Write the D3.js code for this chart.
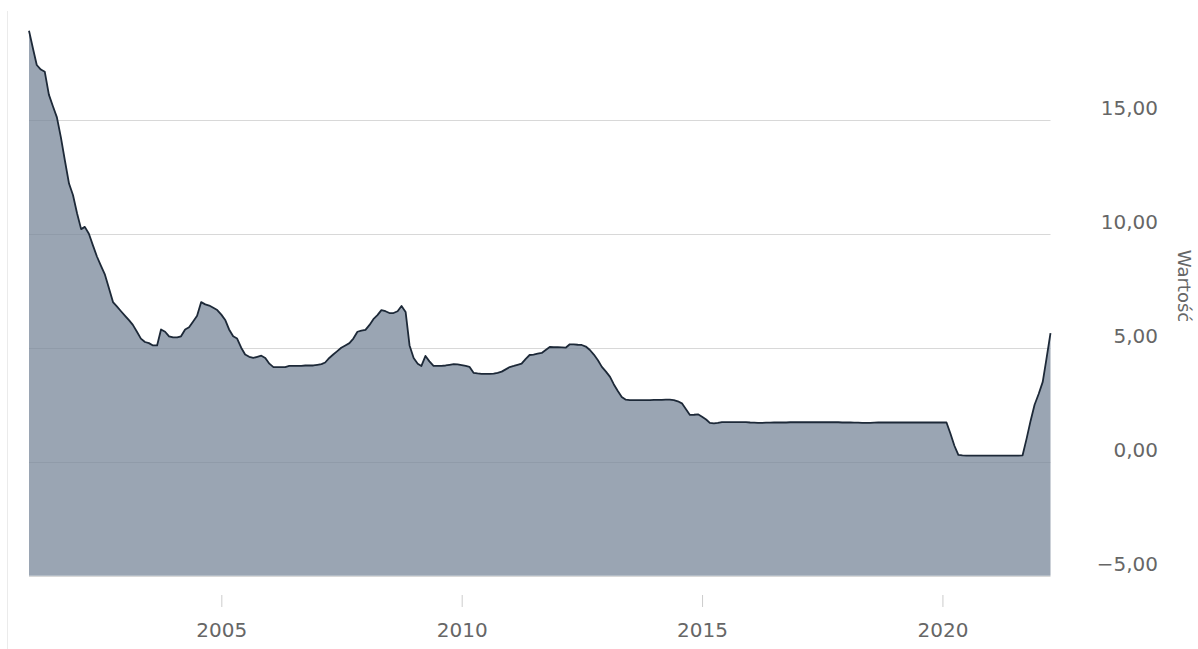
<!DOCTYPE html>
<html>
<head>
<meta charset="utf-8">
<script src="https://d3js.org/d3.v7.min.js"></script>
<style>
  body { margin: 0; background: #fff; }
  text { font-family: "DejaVu Sans", sans-serif; fill: #666; }
</style>
</head>
<body>
<script>
// monthly values, one list per year (Jan..Dec)
var firstYear = 2001;
var rates2001 = [18.9, 18.1, 17.4, 17.2, 17.1, 16.1, 15.6, 15.1, 14.2, 13.2, 12.2, 11.7];
var rates2002 = [10.9, 10.2, 10.3, 10.0, 9.5, 9.0, 8.6, 8.2, 7.6, 7.0, 6.8, 6.6];
var rates2003 = [6.4, 6.2, 6.0, 5.7, 5.4, 5.25, 5.2, 5.1, 5.1, 5.8, 5.7, 5.5];
var rates2004 = [5.45, 5.45, 5.5, 5.8, 5.9, 6.15, 6.4, 7.0, 6.9, 6.85, 6.75, 6.65];
var rates2005 = [6.45, 6.2, 5.8, 5.5, 5.4, 5.0, 4.7, 4.6, 4.55, 4.6, 4.65, 4.55];
var rates2006 = [4.3, 4.15, 4.15, 4.15, 4.15, 4.2, 4.2, 4.2, 4.2, 4.22, 4.22, 4.22];
var rates2007 = [4.25, 4.28, 4.35, 4.55, 4.7, 4.85, 5.0, 5.1, 5.2, 5.4, 5.7, 5.75];
var rates2008 = [5.78, 6.0, 6.25, 6.43, 6.65, 6.6, 6.52, 6.52, 6.6, 6.83, 6.57, 5.1];
var rates2009 = [4.55, 4.3, 4.2, 4.64, 4.4, 4.2, 4.2, 4.2, 4.22, 4.25, 4.28, 4.27];
var rates2010 = [4.24, 4.2, 4.16, 3.9, 3.87, 3.85, 3.85, 3.85, 3.86, 3.9, 3.95, 4.05];
var rates2011 = [4.15, 4.2, 4.25, 4.3, 4.5, 4.68, 4.7, 4.74, 4.77, 4.9, 5.03, 5.02];
var rates2012 = [5.02, 5.01, 5.0, 5.15, 5.15, 5.13, 5.12, 5.05, 4.9, 4.7, 4.45, 4.16];
var rates2013 = [3.95, 3.72, 3.4, 3.1, 2.84, 2.72, 2.7, 2.7, 2.7, 2.7, 2.7, 2.7];
var rates2014 = [2.71, 2.71, 2.71, 2.72, 2.72, 2.7, 2.65, 2.56, 2.3, 2.05, 2.06, 2.08];
var rates2015 = [1.97, 1.85, 1.7, 1.68, 1.7, 1.74, 1.74, 1.74, 1.74, 1.74, 1.74, 1.74];
var rates2016 = [1.72, 1.71, 1.7, 1.7, 1.71, 1.71, 1.72, 1.72, 1.72, 1.72, 1.73, 1.73];
var rates2017 = [1.73, 1.73, 1.73, 1.73, 1.73, 1.73, 1.73, 1.73, 1.73, 1.73, 1.73, 1.72];
var rates2018 = [1.72, 1.72, 1.71, 1.71, 1.7, 1.7, 1.7, 1.71, 1.72, 1.72, 1.72, 1.72];
var rates2019 = [1.72, 1.72, 1.72, 1.72, 1.72, 1.72, 1.72, 1.72, 1.72, 1.72, 1.72, 1.72];
var rates2020 = [1.72, 1.72, 1.25, 0.7, 0.3, 0.28, 0.27, 0.27, 0.27, 0.27, 0.27, 0.27];
var rates2021 = [0.27, 0.27, 0.27, 0.27, 0.27, 0.27, 0.27, 0.27, 0.28, 1.0, 1.8, 2.5];
var rates2022 = [2.97, 3.5, 4.5, 5.64];

var allRates = [rates2001, rates2002, rates2003, rates2004, rates2005, rates2006,
  rates2007, rates2008, rates2009, rates2010, rates2011, rates2012, rates2013,
  rates2014, rates2015, rates2016, rates2017, rates2018, rates2019, rates2020,
  rates2021, rates2022];

var yTicks = [-5, 0, 5, 10, 15];
var xTicks = [2005, 2010, 2015, 2020];
var axisTitle = "Wartość";

var width = 1198;
var height = 649;

var data = [];
allRates.forEach(function(list, i) {
  list.forEach(function(v, m) {
    data.push({ date: new Date(firstYear + i, m, 1), value: v });
  });
});

var svg = d3.select("body").append("svg")
    .attr("width", width)
    .attr("height", height);

var left = 29, right = 1050.5;

var x = d3.scaleTime()
    .domain(d3.extent(data, function(d) { return d.date; }))
    .range([left, right]);

var y = d3.scaleLinear()
    .domain([-5, 15])
    .range([575.7, 119.7]);

// container edge on the left
svg.append("line")
    .attr("x1", 7.5).attr("x2", 7.5)
    .attr("y1", 11).attr("y2", height)
    .attr("stroke", "#ebebeb");

// grid
svg.append("g").selectAll("line")
    .data(yTicks)
    .enter()
    .append("line")
    .attr("x1", left)
    .attr("x2", right)
    .attr("y1", function(d) { return Math.round(y(d)) + 0.5; })
    .attr("y2", function(d) { return Math.round(y(d)) + 0.5; })
    .attr("stroke", "#d8d8d8");

var area = d3.area()
    .x(function(d) { return x(d.date); })
    .y0(y(-5))
    .y1(function(d) { return y(d.value); });

var line = d3.line()
    .x(function(d) { return x(d.date); })
    .y(function(d) { return y(d.value); });

svg.append("path")
    .datum(data)
    .attr("d", area)
    .attr("fill", "#788799")
    .attr("fill-opacity", 0.75);

svg.append("path")
    .datum(data)
    .attr("d", line)
    .attr("fill", "none")
    .attr("stroke", "#1d2938")
    .attr("stroke-width", 1.8)
    .attr("stroke-linejoin", "round");

// x axis
var xAxis = d3.axisBottom(x)
    .tickValues(xTicks.map(function(yr) { return new Date(yr, 0, 1); }))
    .tickSize(12)
    .tickFormat(d3.timeFormat("%Y"));

var gx = svg.append("g")
    .attr("transform", "translate(0,595)")
    .call(xAxis);
gx.select(".domain").remove();
gx.selectAll(".tick line").attr("stroke", "#cccccc");
gx.selectAll(".tick text")
    .attr("y", 42)
    .attr("dy", null)
    .style("font-size", "20px")
    .style("font-family", "DejaVu Sans")
    .attr("fill", "#666");

// y axis labels (right side)
var fmt = d3.format(".2f");
var yAxis = d3.axisRight(y)
    .tickValues(yTicks)
    .tickSize(0)
    .tickFormat(function(d) { return fmt(d).replace(".", ","); });

var gy = svg.append("g")
    .attr("transform", "translate(1158,0)")
    .call(yAxis);
gy.select(".domain").remove();
gy.selectAll(".tick text")
    .attr("x", 0)
    .attr("dy", "-0.25em")
    .attr("text-anchor", "end")
    .style("font-size", "20px")
    .style("font-family", "DejaVu Sans")
    .attr("fill", "#666");

svg.append("text")
    .attr("transform", "translate(1178,286) rotate(90)")
    .attr("text-anchor", "middle")
    .style("font-size", "18px")
    .text(axisTitle);
</script>
</body>
</html>
